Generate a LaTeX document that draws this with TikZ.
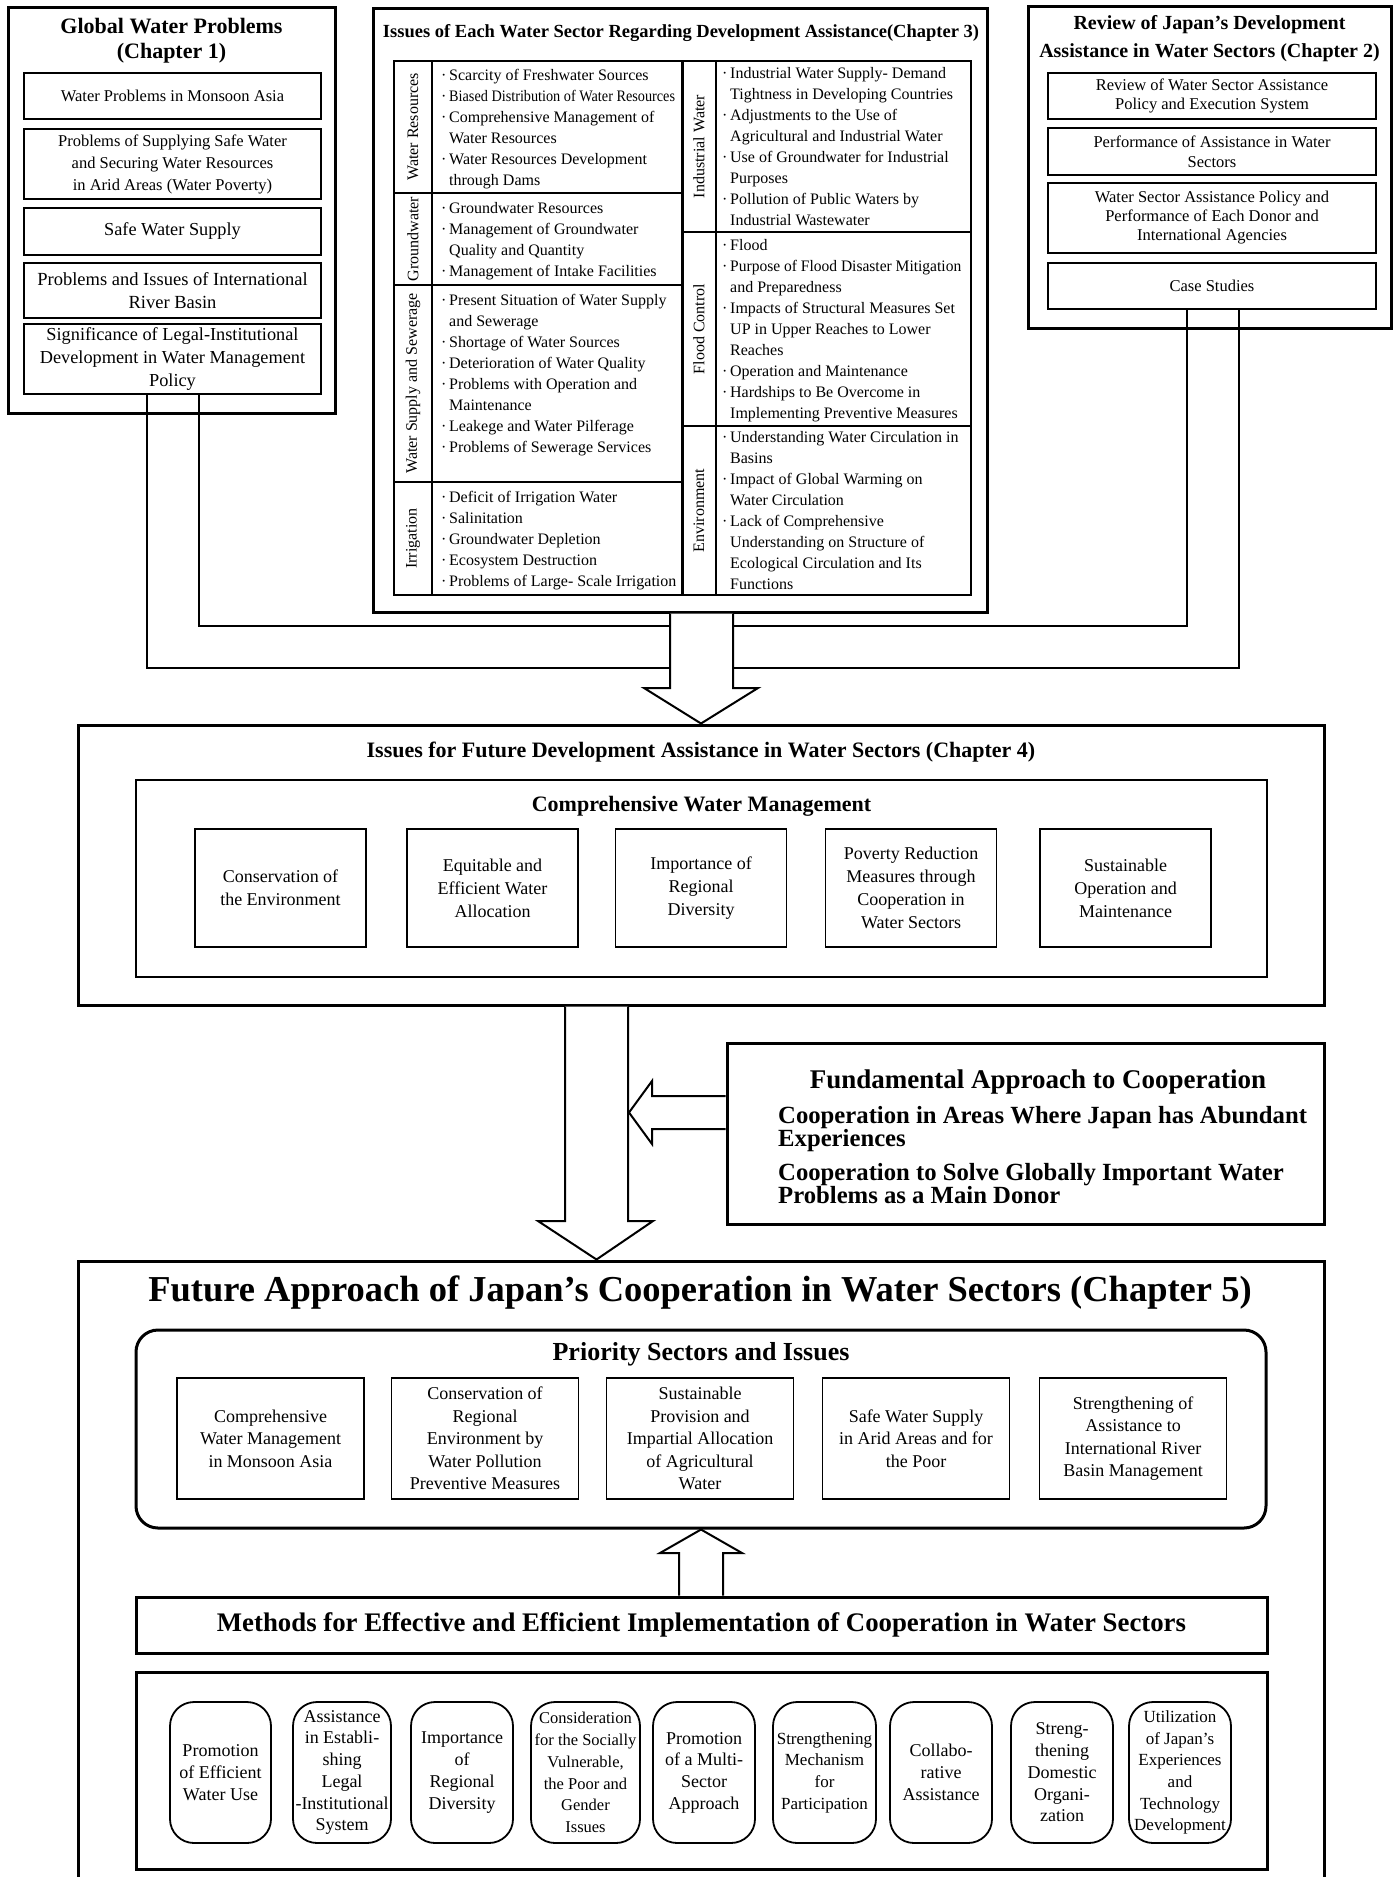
\documentclass[tikz,border=0pt]{standalone}
\usepackage{fontspec}
\setmainfont{Liberation Serif}
\usepackage{graphicx}
\usepackage{tikz}

\newcommand{\bl}{\makebox[8pt][l]{\textperiodcentered}}
\newcommand{\ind}{\hspace*{8pt}}

\begin{document}
\begin{tikzpicture}
  [x=1pt,y=-1pt,
   outer/.style={draw,line width=3pt,inner sep=0pt},
   ibox/.style={draw,line width=1.3pt,inner sep=0pt,align=center},
   pill/.style={draw,line width=1.8pt,rounded corners=24pt,inner sep=0pt,align=center,
     minimum width=102pt,minimum height=141pt,font=\fontsize{18}{21.7}\selectfont},
   item/.style={anchor=north west,align=left,inner sep=0pt,font=\fontsize{16}{21}\selectfont},
   vlab/.style={rotate=90,inner sep=0pt,font=\fontsize{16}{16}\selectfont},
   conn/.style={line width=1.5pt},
   fat/.style={draw,line width=2pt,fill=white,line join=miter}]

  \useasboundingbox (0,0) rectangle (1398,1877);
  \clip (0,0) rectangle (1398,1877);

  % chapter 1
  \node [outer,minimum width=327pt,minimum height=406pt] (ch1) at (171.5,210) {};
  \node [align=center,font=\bfseries\fontsize{22}{25}\selectfont] (t1) at (171.5,40.5) {Global Water Problems\\(Chapter 1)};
  \node [ibox,minimum width=297pt,minimum height=46pt,font=\fontsize{16.5}{22}\selectfont] (g1) at (172.5,96) {Water Problems in Monsoon Asia};
  \node [ibox,minimum width=297pt,minimum height=70pt,font=\fontsize{16.5}{22}\selectfont] (g2) at (172.5,164) {Problems of Supplying Safe Water\\and Securing Water Resources\\in Arid Areas (Water Poverty)};
  \node [ibox,minimum width=297pt,minimum height=47pt,font=\fontsize{18.3}{23}\selectfont] (g3) at (172.5,231.5) {Safe Water Supply};
  \node [ibox,minimum width=297pt,minimum height=55pt,font=\fontsize{18.5}{23}\selectfont] (g4) at (172.5,290.5) {Problems and Issues of International\\River Basin};
  \node [ibox,minimum width=297pt,minimum height=70pt,font=\fontsize{18.3}{23}\selectfont] (g5) at (172.5,359) {Significance of Legal-Institutional\\Development in Water Management\\Policy};

  % chapter 2
  \node [outer,minimum width=363pt,minimum height=322pt] (ch2) at (1209.5,167) {};
  \node [align=center,font=\bfseries\fontsize{20}{28}\selectfont] (t2) at (1209.5,39) {Review of Japan’s Development\\Assistance in Water Sectors (Chapter 2)};
  \node [ibox,minimum width=328pt,minimum height=46pt,font=\fontsize{16.5}{18.5}\selectfont] (r1) at (1212,96) {Review of Water Sector Assistance\\Policy and Execution System};
  \node [ibox,minimum width=328pt,minimum height=47pt,font=\fontsize{16.5}{20}\selectfont] (r2) at (1212,151.5) {Performance of Assistance in Water\\Sectors};
  \node [ibox,minimum width=328pt,minimum height=70pt,font=\fontsize{16.5}{19}\selectfont] (r3) at (1212,218) {Water Sector Assistance Policy and\\Performance of Each Donor and\\International Agencies};
  \node [ibox,minimum width=328pt,minimum height=46pt,font=\fontsize{16.5}{19}\selectfont] (r4) at (1212,286) {Case Studies};

  % chapter 3
  \node [outer,minimum width=614pt,minimum height=604pt] (ch3) at (680,310) {};
  \node [font=\bfseries\fontsize{18.5}{20}\selectfont] (t3) at (681,33) {Issues of Each Water Sector Regarding Development Assistance(Chapter 3)};
  \draw [line width=2pt] (394,61) rectangle (971,595);
  \draw [line width=1.6pt] (432,61) -- (432,595) (716,61) -- (716,595)
    (394,193) -- (682,193) (394,285) -- (682,285) (394,482) -- (682,482)
    (682,232) -- (971,232) (682,426) -- (971,426);
  \draw [line width=3pt] (682,61) -- (682,595);

  \node [vlab] (lwr) at (413,127) {Water Resources};
  \node [vlab] (lgw) at (413,239) {Groundwater};
  \node [vlab] (lws) at (413,383.5) {Water Supply and Sewerage};
  \node [vlab] (lir) at (413,538.5) {Irrigation};
  \node [vlab] (liw) at (699,146.5) {Industrial Water};
  \node [vlab] (lfc) at (699,329) {Flood Control};
  \node [vlab] (len) at (699,510.5) {Environment};

  \node [item] (iwr) at (441,69.3) {\bl Scarcity of Freshwater Sources\\
    \bl\scalebox{0.89}[1]{Biased Distribution of Water Resources}\\
    \bl Comprehensive Management of\\ \ind Water Resources\\
    \bl Water Resources Development\\ \ind through Dams};
  \node [item] (igw) at (441,202.3) {\bl Groundwater Resources\\
    \bl Management of Groundwater\\ \ind Quality and Quantity\\
    \bl Management of Intake Facilities};
  \node [item] (iws) at (441,294.3) {\bl Present Situation of Water Supply\\ \ind and Sewerage\\
    \bl Shortage of Water Sources\\
    \bl Deterioration of Water Quality\\
    \bl Problems with Operation and\\ \ind Maintenance\\
    \bl Leakege and Water Pilferage\\
    \bl Problems of Sewerage Services};
  \node [item] (iir) at (441,491.3) {\bl Deficit of Irrigation Water\\
    \bl Salinitation\\
    \bl Groundwater Depletion\\
    \bl Ecosystem Destruction\\
    \bl Problems of Large- Scale Irrigation};
  \node [item] (iiw) at (722,67.3) {\bl Industrial Water Supply- Demand\\ \ind Tightness in Developing Countries\\
    \bl Adjustments to the Use of\\ \ind Agricultural and Industrial Water\\
    \bl Use of Groundwater for Industrial\\ \ind Purposes\\
    \bl Pollution of Public Waters by\\ \ind Industrial Wastewater};
  \node [item] (ifc) at (722,239.3) {\bl Flood\\
    \bl\scalebox{0.97}[1]{Purpose of Flood Disaster Mitigation}\\ \ind and Preparedness\\
    \bl Impacts of Structural Measures Set\\ \ind UP in Upper Reaches to Lower\\ \ind Reaches\\
    \bl Operation and Maintenance\\
    \bl Hardships to Be Overcome in\\ \ind Implementing Preventive Measures};
  \node [item] (ien) at (722,431.3) {\bl Understanding Water Circulation in\\ \ind Basins\\
    \bl Impact of Global Warming on\\ \ind Water Circulation\\
    \bl Lack of Comprehensive\\ \ind Understanding on Structure of\\
    \ind Ecological Circulation and Its\\ \ind Functions};

  % chapter 4
  \node [outer,minimum width=1246pt,minimum height=280pt] (ch4) at (701,865) {};
  \node [font=\bfseries\fontsize{22}{24}\selectfont] (t4) at (701,752) {Issues for Future Development Assistance in Water Sectors (Chapter 4)};
  \node [draw,line width=2.5pt,minimum width=1131pt,minimum height=197pt] (cwm) at (701.5,878.5) {};
  \node [font=\bfseries\fontsize{22}{24}\selectfont] (tcwm) at (701.5,806) {Comprehensive Water Management};
  \node [ibox,minimum width=171pt,minimum height=118pt,font=\fontsize{18}{23}\selectfont] (c1) at (280.5,888) {Conservation of\\the Environment};
  \node [ibox,minimum width=171pt,minimum height=118pt,font=\fontsize{18}{23}\selectfont] (c2) at (492.5,888) {Equitable and\\Efficient Water\\Allocation};
  \node [ibox,minimum width=171pt,minimum height=118pt,font=\fontsize{18}{23}\selectfont] (c3) at (701,888) {Importance of\\Regional\\Diversity};
  \node [ibox,minimum width=171pt,minimum height=118pt,font=\fontsize{18}{23}\selectfont] (c4) at (911,888) {Poverty Reduction\\Measures through\\Cooperation in\\Water Sectors};
  \node [ibox,minimum width=171pt,minimum height=118pt,font=\fontsize{18}{23}\selectfont] (c5) at (1125.5,888) {Sustainable\\Operation and\\Maintenance};

  % fundamental approach
  \node [outer,minimum width=597pt,minimum height=181pt] (fund) at (1025.5,1133.5) {};
  \node [font=\bfseries\fontsize{27}{28}\selectfont] (tf) at (1038,1082) {Fundamental Approach to Cooperation};
  \node [anchor=north west,align=left,inner sep=0pt,font=\bfseries\fontsize{24.7}{23.5}\selectfont] (f1) at (778,1106) {Cooperation in Areas Where Japan has Abundant\\Experiences};
  \node [anchor=north west,align=left,inner sep=0pt,font=\bfseries\fontsize{24.7}{23.5}\selectfont] (f2) at (778,1163) {Cooperation to Solve Globally Important Water\\Problems as a Main Donor};

  % chapter 5
  \node [outer,minimum width=1246pt,minimum height=640pt] (ch5) at (701,1581) {};
  \node [font=\bfseries\fontsize{36.5}{38}\selectfont] (t5) at (700,1293) {Future Approach of Japan’s Cooperation in Water Sectors (Chapter 5)};
  \node [draw,line width=3pt,rounded corners=22pt,minimum width=1130pt,minimum height=198pt] (prio) at (701,1429) {};
  \node [font=\bfseries\fontsize{26}{28}\selectfont] (tp) at (701,1354) {Priority Sectors and Issues};
  \node [ibox,minimum width=187pt,minimum height=121pt,font=\fontsize{18}{22.5}\selectfont] (p1) at (270.5,1438.5) {Comprehensive\\Water Management\\in Monsoon Asia};
  \node [ibox,minimum width=187pt,minimum height=121pt,font=\fontsize{18}{22.5}\selectfont] (p2) at (485,1438.5) {Conservation of\\Regional\\Environment by\\Water Pollution\\Preventive Measures};
  \node [ibox,minimum width=187pt,minimum height=121pt,font=\fontsize{18}{22.5}\selectfont] (p3) at (700,1438.5) {Sustainable\\Provision and\\Impartial Allocation\\of Agricultural\\Water};
  \node [ibox,minimum width=187pt,minimum height=121pt,font=\fontsize{18}{22.5}\selectfont] (p4) at (916,1438.5) {Safe Water Supply\\in Arid Areas and for\\the Poor};
  \node [ibox,minimum width=187pt,minimum height=121pt,font=\fontsize{18}{22.5}\selectfont] (p5) at (1133,1438.5) {Strengthening of\\Assistance to\\International River\\Basin Management};

  \node [draw,line width=3pt,minimum width=1131pt,minimum height=56pt,font=\bfseries\fontsize{26.8}{28}\selectfont] (meth) at (701.5,1625) {Methods for Effective and Efficient Implementation of Cooperation in Water Sectors};
  \node [draw,line width=3pt,minimum width=1131pt,minimum height=197pt] (mbox) at (701.5,1770.5) {};
  \node [pill,minimum width=101pt] (m1) at (220.5,1772.5) {Promotion\\of Efficient\\Water Use};
  \node [pill,minimum width=98pt] (m2) at (342,1772.5) {Assistance\\in Establi-\\shing\\Legal\\-Institutional\\System};
  \node [pill] (m3) at (462,1772.5) {Importance\\of\\Regional\\Diversity};
  \node [pill,minimum width=109pt,font=\fontsize{16.5}{21.7}\selectfont] (m4) at (585.5,1772.5) {Consideration\\for the Socially\\Vulnerable,\\the Poor and\\Gender\\Issues};
  \node [pill] (m5) at (704,1772.5) {Promotion\\of a Multi-\\Sector\\Approach};
  \node [pill,minimum width=103pt,font=\fontsize{17}{21.7}\selectfont] (m6) at (824.5,1772.5) {Strengthening\\Mechanism\\for\\Participation};
  \node [pill] (m7) at (941,1772.5) {Collabo-\\rative\\Assistance};
  \node [pill] (m8) at (1062,1772.5) {Streng-\\thening\\Domestic\\Organi-\\zation};
  \node [pill,font=\fontsize{17}{21.7}\selectfont] (m9) at (1180,1772.5) {Utilization\\of Japan’s\\Experiences\\and\\Technology\\Development};

  % connectors into the first arrow
  \coordinate (j1) at (670,668);
  \coordinate (j2) at (670,626);
  \coordinate (j3) at (733,668);
  \coordinate (j4) at (733,626);
  \draw [conn] ([xshift=-25.5pt]g5.south) |- (j1);
  \draw [conn] ([xshift=26.5pt]g5.south) |- (j2);
  \draw [conn] ([xshift=27pt]r4.south) |- (j3);
  \draw [conn] ([xshift=-25pt]r4.south) |- (j4);

  % block arrows
  \draw [fat] ([xshift=-10pt]ch3.south) -- (670,688) -- (644,688) -- (ch4.north)
    -- (758,688) -- (733,688) -- ([xshift=53pt]ch3.south);
  \draw [fat] ([xshift=-136pt]ch4.south) -- (565,1221) -- (538,1221) -- ([xshift=-104.5pt]ch5.north)
    -- (653,1221) -- (628,1221) -- ([xshift=-73pt]ch4.south);
  \coordinate (tipl) at (629,1112.5);
  \draw [fat] ([yshift=37.5pt]fund.west) -- (652,1096) -- (652,1081) -- (tipl)
    -- (652,1144) -- (652,1129) -- ([yshift=4.5pt]fund.west);
  \draw [fat] ([xshift=-22.5pt]meth.north) -- (679,1553) -- (660,1553) -- (prio.south)
    -- (742,1553) -- (723,1553) -- ([xshift=21.5pt]meth.north);

\end{tikzpicture}
\end{document}
